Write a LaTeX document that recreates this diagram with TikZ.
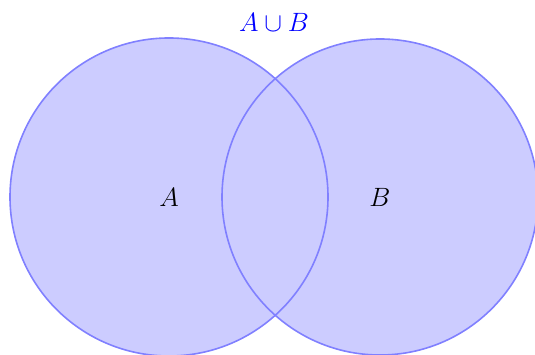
\RequirePackage{fix-cm}
\documentclass[tikz,border=0pt]{standalone}
\begin{document}
\begin{tikzpicture}[x=1pt,y=1pt,
  setfill/.style={fill={rgb,255:red,204;green,204;blue,255}},
  setedge/.style={draw={rgb,255:red,128;green,128;blue,255},line width=1.6pt},
  lbl/.style={font=\fontsize{26.5}{32}\selectfont}]
\useasboundingbox (0,0) rectangle (535,355);
\coordinate (ca) at (169,158);
\coordinate (cb) at (380,158);
\fill[setfill] (ca) circle (159);
\fill[setfill] (cb) circle (158);
\draw[setedge] (ca) circle (159);
\draw[setedge] (cb) circle (158);
\node[lbl] (a) at (169,158) {$A$};
\node[lbl] (b) at (380,158) {$B$};
\node[lbl,text=blue] (u) at (274,333) {$A\cup B$};
\end{tikzpicture}
\end{document}
